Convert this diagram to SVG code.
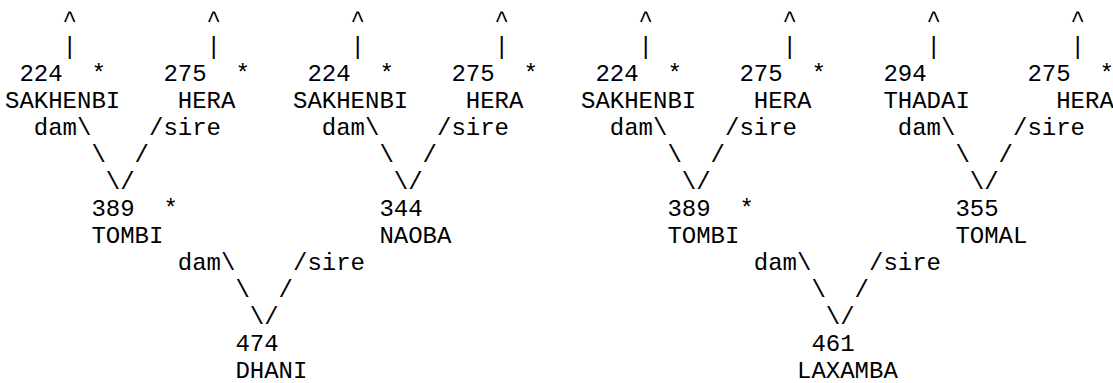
<svg xmlns="http://www.w3.org/2000/svg" width="1113" height="383" viewBox="0 0 1113 383">
<style>
text{font-family:"Liberation Mono",monospace;font-size:24px;fill:#000;}
</style>
<rect width="1113" height="383" fill="#fff"/>
<g id="connectors">
<text x="62.6" y="26.5">^</text><text x="206.6" y="26.5">^</text><text x="350.6" y="26.5">^</text><text x="494.6" y="26.5">^</text>
<text x="638.6" y="26.5">^</text><text x="782.6" y="26.5">^</text><text x="926.6" y="26.5">^</text><text x="1070.6" y="26.5">^</text>
<text x="62.6" y="53.5">|</text><text x="206.6" y="53.5">|</text><text x="350.6" y="53.5">|</text><text x="494.6" y="53.5">|</text>
<text x="638.6" y="53.5">|</text><text x="782.6" y="53.5">|</text><text x="926.6" y="53.5">|</text><text x="1070.6" y="53.5">|</text>
<text x="33.8" y="134.5">dam\</text><text x="149" y="134.5">/sire</text>
<text x="321.8" y="134.5">dam\</text><text x="437" y="134.5">/sire</text>
<text x="609.8" y="134.5">dam\</text><text x="725" y="134.5">/sire</text>
<text x="897.8" y="134.5">dam\</text><text x="1013" y="134.5">/sire</text>
<text x="91.4" y="161.5">\</text><text x="134.6" y="161.5">/</text>
<text x="379.4" y="161.5">\</text><text x="422.6" y="161.5">/</text>
<text x="667.4" y="161.5">\</text><text x="710.6" y="161.5">/</text>
<text x="955.4" y="161.5">\</text><text x="998.6" y="161.5">/</text>
<text x="105.8" y="188.5">\/</text><text x="393.8" y="188.5">\/</text><text x="681.8" y="188.5">\/</text><text x="969.8" y="188.5">\/</text>
<text x="177.8" y="269.5">dam\</text><text x="293" y="269.5">/sire</text>
<text x="753.8" y="269.5">dam\</text><text x="869" y="269.5">/sire</text>
<text x="235.4" y="296.5">\</text><text x="278.6" y="296.5">/</text>
<text x="811.4" y="296.5">\</text><text x="854.6" y="296.5">/</text>
<text x="249.8" y="323.5">\/</text><text x="825.8" y="323.5">\/</text>
</g>
<g id="n1"><text x="19.4" y="80.5">224</text><text x="91.4" y="80.5">*</text><text x="5" y="107.5">SAKHENBI</text></g>
<g id="n2"><text x="163.4" y="80.5">275</text><text x="235.4" y="80.5">*</text><text x="177.8" y="107.5">HERA</text></g>
<g id="n3"><text x="307.4" y="80.5">224</text><text x="379.4" y="80.5">*</text><text x="293" y="107.5">SAKHENBI</text></g>
<g id="n4"><text x="451.4" y="80.5">275</text><text x="523.4" y="80.5">*</text><text x="465.8" y="107.5">HERA</text></g>
<g id="n5"><text x="595.4" y="80.5">224</text><text x="667.4" y="80.5">*</text><text x="581" y="107.5">SAKHENBI</text></g>
<g id="n6"><text x="739.4" y="80.5">275</text><text x="811.4" y="80.5">*</text><text x="753.8" y="107.5">HERA</text></g>
<g id="n7"><text x="883.4" y="80.5">294</text><text x="883.4" y="107.5">THADAI</text></g>
<g id="n8"><text x="1027.4" y="80.5">275</text><text x="1099.4" y="80.5">*</text><text x="1056.2" y="107.5">HERA</text></g>
<g id="n9"><text x="91.4" y="215.5">389</text><text x="163.4" y="215.5">*</text><text x="91.4" y="242.5">TOMBI</text></g>
<g id="n10"><text x="379.4" y="215.5">344</text><text x="379.4" y="242.5">NAOBA</text></g>
<g id="n11"><text x="667.4" y="215.5">389</text><text x="739.4" y="215.5">*</text><text x="667.4" y="242.5">TOMBI</text></g>
<g id="n12"><text x="955.4" y="215.5">355</text><text x="955.4" y="242.5">TOMAL</text></g>
<g id="n13"><text x="235.4" y="350.5">474</text><text x="235.4" y="377.5">DHANI</text></g>
<g id="n14"><text x="811.4" y="350.5">461</text><text x="797" y="377.5">LAXAMBA</text></g>
</svg>
